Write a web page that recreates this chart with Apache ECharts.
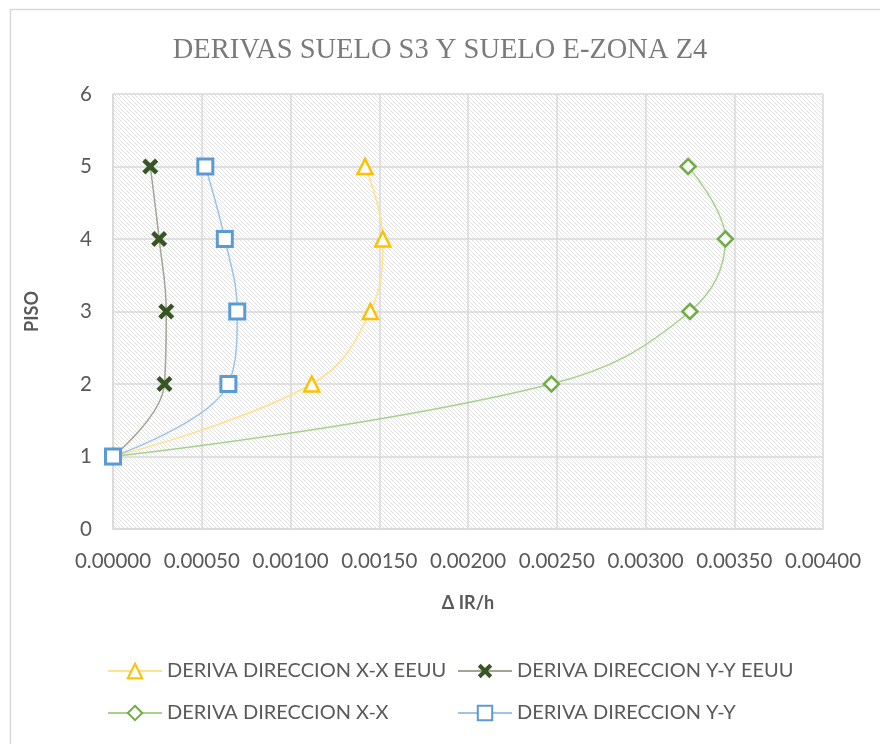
<!DOCTYPE html>
<html>
<head>
<meta charset="utf-8">
<script src="https://cdn.jsdelivr.net/npm/echarts@6/dist/echarts.min.js"></script>
<style>
html,body{margin:0;padding:0;background:#fff;}
#chart{width:880px;height:744px;}
</style>
</head>
<body>
<div id="chart"></div>
<script>
// Data
var floors = [1, 2, 3, 4, 5];
var derivaXXEEUU = [0, 0.00112, 0.00145, 0.00152, 0.00142];
var derivaYYEEUU = [0, 0.00029, 0.00030, 0.00026, 0.00021];
var derivaXX = [0, 0.00247, 0.00325, 0.00345, 0.00324];
var derivaYY = [0, 0.00065, 0.00070, 0.00063, 0.00052];
var seriesNames = ['DERIVA DIRECCION X-X EEUU', 'DERIVA DIRECCION Y-Y EEUU', 'DERIVA DIRECCION X-X', 'DERIVA DIRECCION Y-Y'];
var xTicks = [0, 0.0005, 0.001, 0.0015, 0.002, 0.0025, 0.003, 0.0035, 0.004];
var yTicks = [0, 1, 2, 3, 4, 5, 6];

function pairs(xs) { return xs.map(function (v, i) { return [v, floors[i]]; }); }

// hatch pattern
var tile = document.createElement('canvas');
tile.width = 4; tile.height = 4;
var tctx = tile.getContext('2d');
tctx.fillStyle = '#ffffff';
tctx.fillRect(0, 0, 4, 4);
tctx.fillStyle = '#e2e2e2';
for (var i = 0; i < 4; i++) { tctx.fillRect(i, i, 1, 1); }

var crossPath = 'path://M0,2L2,0L5,3L8,0L10,2L7,5L10,8L8,10L5,7L2,10L0,8L3,5Z';
var font = 'Lato';
var chart = echarts.init(document.getElementById('chart'));
var legendText = { fontFamily: font, fontSize: 20, color: '#595959', padding: [0, 0, 0, 0] };
var option = {
  animation: false,
  backgroundColor: '#ffffff',
  title: {
    text: 'DERIVAS SUELO S3 Y SUELO E-ZONA Z4',
    left: 'center',
    top: 31,
    textStyle: { fontFamily: 'Liberation Serif', fontWeight: 'normal', fontSize: 28.5, color: '#7a7a7a' }
  },
  graphic: [{
    type: 'rect', left: 8, top: 7, z: -10,
    shape: { width: 900, height: 800 },
    style: { fill: 'none', stroke: '#d9d9d9', lineWidth: 1.5 }
  }],
  grid: {
    left: 113, right: 57, top: 94, bottom: 215,
    show: true,
    backgroundColor: { image: tile, repeat: 'repeat' },
    borderWidth: 0
  },
  legend: [{
    data: [seriesNames[0], seriesNames[2]],
    orient: 'vertical',
    left: 102, top: 656,
    itemWidth: 54, itemHeight: 18, itemGap: 22,
    textStyle: legendText
  }, {
    data: [seriesNames[1], seriesNames[3]],
    orient: 'vertical',
    left: 452, top: 656,
    itemWidth: 54, itemHeight: 18, itemGap: 22,
    textStyle: legendText
  }],
  xAxis: {
    type: 'value',
    min: 0, max: 0.004, interval: 0.0005,
    name: 'Δ IR/h',
    nameLocation: 'middle',
    nameGap: 65,
    nameTextStyle: { fontFamily: font, fontWeight: 'bold', fontSize: 18, color: '#595959' },
    axisLine: { show: true, lineStyle: { color: '#d9d9d9', width: 1.5 } },
    axisTick: { show: false },
    axisLabel: {
      fontFamily: font, fontSize: 20.5, color: '#595959', margin: 22,
      formatter: function (v) { return v.toFixed(5); }
    },
    splitLine: { show: true, lineStyle: { color: '#d9d9d9', width: 1.5 } }
  },
  yAxis: {
    type: 'value',
    min: 0, max: 6, interval: 1,
    name: 'PISO',
    nameLocation: 'middle',
    nameGap: 72,
    nameTextStyle: { fontFamily: font, fontWeight: 'bold', fontSize: 18, color: '#595959' },
    axisLine: { show: true, lineStyle: { color: '#d9d9d9', width: 1.5 } },
    axisTick: { show: false },
    axisLabel: { fontFamily: font, fontSize: 20.5, color: '#595959', margin: 21 },
    splitLine: { show: true, lineStyle: { color: '#d9d9d9', width: 1.5 } }
  },
  series: [{
    name: seriesNames[0], type: 'line', smooth: 0.4,
    data: pairs(derivaXXEEUU),
    symbol: 'triangle', symbolSize: 15,
    lineStyle: { color: '#ffe28a', width: 1.5 },
    itemStyle: { color: '#ffffff', borderColor: '#ffc000', borderWidth: 2.5 }
  }, {
    name: seriesNames[1], type: 'line', smooth: 0.4,
    data: pairs(derivaYYEEUU),
    symbol: crossPath, symbolSize: 16,
    lineStyle: { color: '#a0a596', width: 1.5 },
    itemStyle: { color: '#375623', borderWidth: 0 }
  }, {
    name: seriesNames[2], type: 'line', smooth: 0.4,
    data: pairs(derivaXX),
    symbol: 'diamond', symbolSize: 15,
    lineStyle: { color: '#a9d18e', width: 1.5 },
    itemStyle: { color: '#ffffff', borderColor: '#70ad47', borderWidth: 2.5 }
  }, {
    name: seriesNames[3], type: 'line', smooth: 0.4,
    data: pairs(derivaYY),
    symbol: 'rect', symbolSize: 15,
    lineStyle: { color: '#9dc3e6', width: 1.5 },
    itemStyle: { color: '#ffffff', borderColor: '#5b9bd5', borderWidth: 3 }
  }]
};
chart.setOption(option);
</script>
</body>
</html>
